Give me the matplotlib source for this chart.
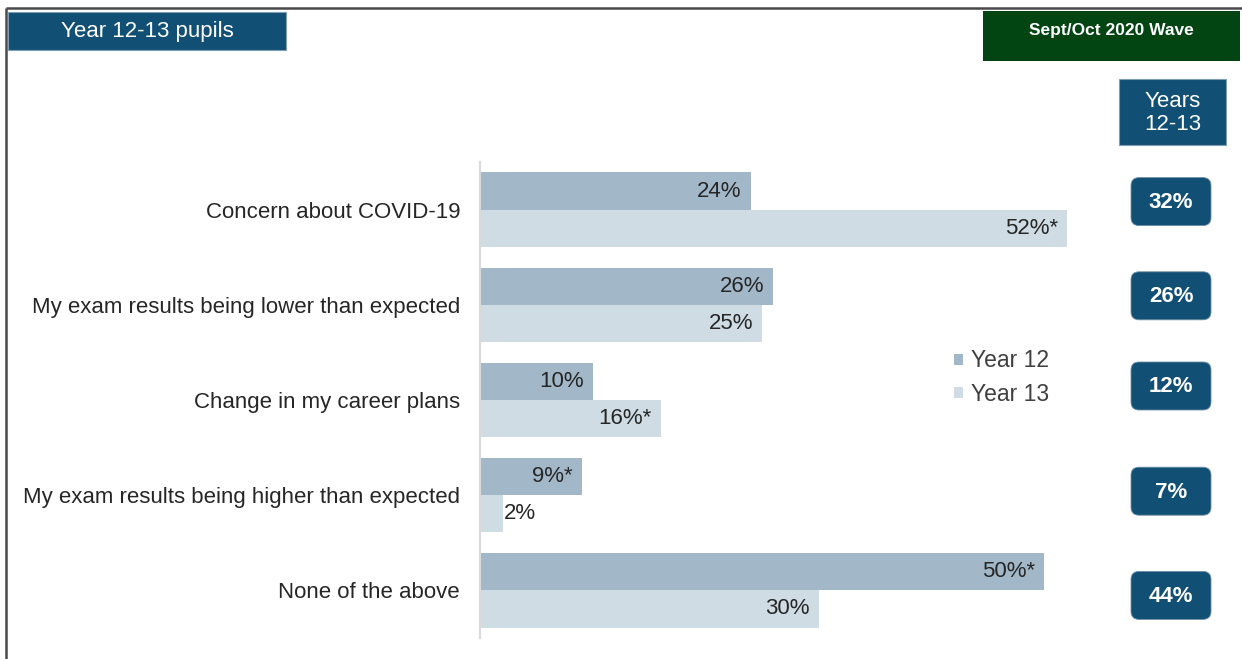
import numpy as np
import matplotlib.pyplot as plt
from matplotlib.patches import FancyBboxPatch, Rectangle

# Daten
categories = ["Concern about COVID-19",
              "My exam results being lower than expected",
              "Change in my career plans",
              "My exam results being higher than expected",
              "None of the above"]
year12 = [24, 26, 10, 9, 50]
year13 = [52, 25, 16, 2, 30]
year12_labels = ["24%", "26%", "10%", "9%*", "50%*"]
year13_labels = ["52%*", "25%", "16%*", "2%", "30%"]
total_labels = ["32%", "26%", "12%", "7%", "44%"]

c12 = "#a2b8c8"
c13 = "#cfdce4"
navy = "#124f74"
green = "#024513"
txt = "#262626"
fs = 16

plt.rcParams['font.family'] = ['Liberation Sans', 'DejaVu Sans']

W, H = 1242, 659
fig = plt.figure(figsize=(W / 100, H / 100), dpi=100)

# Overlay fuer Rahmen und Kopfzeilen (Pixelkoordinaten)
ov = fig.add_axes([0, 0, 1, 1])
ov.set_xlim(0, W)
ov.set_ylim(H, 0)
ov.axis('off')
ov.plot([6, W], [8, 8], color="#4a4a4a", lw=1.8, solid_capstyle='butt')
ov.plot([6, 6], [8, H], color="#4a4a4a", lw=1.8, solid_capstyle='butt')
ov.add_patch(Rectangle((8, 12), 278, 38, fc=navy, ec="#7f9db3", lw=0.8))
ov.text(147, 31, "Year 12-13 pupils", color="white", fontsize=16, ha='center', va='center')
ov.add_patch(Rectangle((983, 11), 257, 50, fc=green, ec="none"))
ov.text(1111, 30, "Sept/Oct 2020 Wave", color="white", fontsize=12.5, fontweight='bold',
        ha='center', va='center')
ov.add_patch(Rectangle((1119, 79), 107, 66, fc=navy, ec="#7f9db3", lw=0.8))
ov.text(1172.5, 113, "Years\n12-13", color="white", fontsize=16, ha='center', va='center',
        linespacing=1.1)

# Balkendiagramm
ax_left, ax_right, ax_top, ax_bot = 480, 1157, 162, 638
ax = fig.add_axes([ax_left / W, (H - ax_bot) / H, (ax_right - ax_left) / W, (ax_bot - ax_top) / H])
ax.patch.set_visible(False)
y = np.arange(len(categories))
h = 0.39
ax.barh(y - h / 2, year12, height=h, color=c12, label="Year 12")
ax.barh(y + h / 2, year13, height=h, color=c13, label="Year 13")
ax.set_xlim(0, 60)
ax.set_ylim(len(categories) - 0.5, -0.5)

for i in range(len(categories)):
    ax.text(year12[i] - 0.8, y[i] - h / 2, year12_labels[i], ha='right', va='center',
            fontsize=fs, color=txt)
    if year13[i] < 5:
        ax.text(year13[i] + 0.1, y[i] + h / 2, year13_labels[i], ha='left', va='center',
                fontsize=fs, color=txt)
    else:
        ax.text(year13[i] - 0.8, y[i] + h / 2, year13_labels[i], ha='right', va='center',
                fontsize=fs, color=txt)

ax.set_yticks(y)
ax.set_yticklabels(categories, fontsize=fs, color=txt)
ax.tick_params(axis='y', length=0, pad=14.4)
ax.set_xticks([])
for s in ['top', 'right', 'bottom']:
    ax.spines[s].set_visible(False)
ax.spines['left'].set_color("#d9d9d9")
ax.spines['left'].set_linewidth(1.5)

leg = ax.legend(loc='upper left', bbox_to_anchor=((943 - ax_left) / (ax_right - ax_left),
                                                  1 - (338 - ax_top) / (ax_bot - ax_top)),
                frameon=False, fontsize=16.5, handlelength=0.38, handleheight=0.38,
                handletextpad=0.35, labelspacing=0.45, borderpad=0)
for t in leg.get_texts():
    t.set_color("#404040")

# Gesamtwerte rechts (Position aus den Datenkoordinaten der Balkengruppen)
fig.canvas.draw()
bw, bh = 80, 48
box_shift = [-8, -9, -14, -4, 5]  # Versatz in Pixel gegenueber Gruppenmitte
for i, lab in enumerate(total_labels):
    yc = H - ax.transData.transform((0, y[i]))[1] + box_shift[i]
    ov.add_patch(FancyBboxPatch((1131, yc - bh / 2), bw, bh,
                                boxstyle="round,pad=0,rounding_size=8",
                                fc=navy, ec="#6f8fa6", lw=0.6))
    ov.text(1171, yc + 1, lab, color="white", fontsize=16, fontweight='bold',
            ha='center', va='center')

fig.savefig("out.png", dpi=100)
